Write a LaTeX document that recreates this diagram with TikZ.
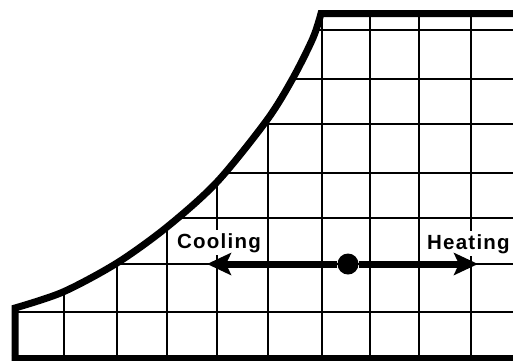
\documentclass[tikz,border=0pt]{standalone}
\usepackage{fontspec}
\setmainfont{Liberation Sans}
\usetikzlibrary{arrows.meta}
\begin{document}
\begin{tikzpicture}[x=1pt,y=-1pt,
  gridline/.style={line width=2.8pt},
  border/.style={line width=7pt},
  arrowline/.style={line width=7pt, -{Stealth[length=24pt,width=22pt,inset=5pt]}},
  txtlabel/.style={fill=white, inner xsep=2pt, inner ysep=3pt,
    font=\fontsize{20.5}{21}\selectfont\bfseries\addfontfeature{LetterSpace=6}, anchor=base west},
  dotnode/.style={circle, fill=black, minimum size=21pt, inner sep=0pt}]
\useasboundingbox (0,0) rectangle (513,360);
\def\curvepts{(15,308) (63,292) (117,263) (167,227) (217,182) (267,120) (293,78) (313,38) (321,13.5)}
\begin{scope}
  \clip (0,0) rectangle (513,360);
  \begin{scope}
    \clip plot[smooth] coordinates {\curvepts} -- (520,13.5) -- (520,365) -- (15,365) -- cycle;
    \foreach \gx in {64,117,167,217,268,322,370,419,471}
      \draw[gridline] (\gx,0) -- (\gx,365);
    \foreach \gy in {30,79,124,173,218,264,312}
      \draw[gridline] (0,\gy) -- (520,\gy);
  \end{scope}
  \draw[border] (15,362) -- plot[smooth] coordinates {\curvepts} -- (520,13.5);
  \draw[border] (11.5,358.5) -- (520,358.5);
  \node[txtlabel] (cooling) at (175,248) {Cooling};
  \node[txtlabel] (heating) at (425,249) {Heating};
  \node[dotnode] (dot) at (348,264) {};
  \coordinate (cooltip) at (207,264);
  \coordinate (heattip) at (478,264);
  \draw[arrowline] (dot) -- (cooltip);
  \draw[arrowline] (dot) -- (heattip);
\end{scope}
\end{tikzpicture}
\end{document}
